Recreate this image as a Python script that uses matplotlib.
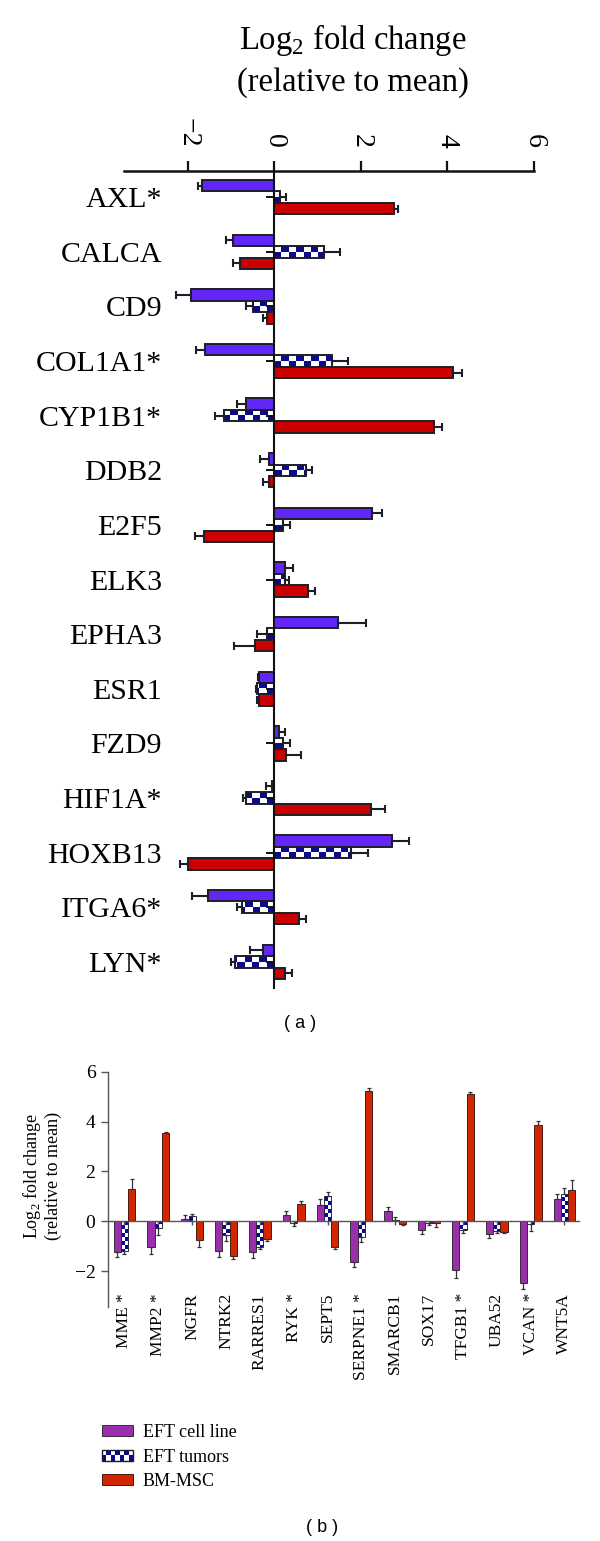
import numpy as np
import matplotlib
matplotlib.use("Agg")
import matplotlib.pyplot as plt
from matplotlib.patches import Rectangle
from matplotlib.legend_handler import HandlerBase

plt.rcParams['font.family'] = ['Liberation Serif', 'DejaVu Serif']
plt.rcParams['mathtext.fontset'] = 'custom'
plt.rcParams['mathtext.rm'] = 'Liberation Serif'

# ---------------- data: panel (a) ----------------
top_genes = ["AXL*", "CALCA", "CD9", "COL1A1*", "CYP1B1*", "DDB2", "E2F5", "ELK3",
             "EPHA3", "ESR1", "FZD9", "HIF1A*", "HOXB13", "ITGA6*", "LYN*"]
top_cell = [-1.67, -0.95, -1.93, -1.59, -0.66, -0.11, 2.26, 0.26, 1.48, -0.35, 0.12, -0.05, 2.72, -1.52, -0.27]
top_cell_err = [0.10, 0.17, 0.35, 0.21, 0.19, 0.22, 0.22, 0.18, 0.63, 0.03, 0.13, 0.15, 0.40, 0.37, 0.29]
top_tum = [0.14, 1.15, -0.49, 1.34, -1.16, 0.74, 0.20, 0.25, -0.17, -0.39, 0.20, -0.65, 1.78, -0.75, -0.90]
top_tum_err = [0.13, 0.38, 0.16, 0.36, 0.21, 0.14, 0.17, 0.08, 0.22, 0.03, 0.16, 0.08, 0.39, 0.11, 0.10]
top_msc = [2.76, -0.80, -0.17, 4.13, 3.68, -0.13, -1.62, 0.77, -0.45, -0.36, 0.28, 2.24, -1.99, 0.58, 0.24]
top_msc_err = [0.10, 0.16, 0.08, 0.20, 0.20, 0.13, 0.20, 0.17, 0.47, 0.03, 0.34, 0.31, 0.19, 0.15, 0.18]
top_xticks = [-2, 0, 2, 4, 6]

# ---------------- data: panel (b) ----------------
bot_genes = ["MME *", "MMP2 *", "NGFR", "NTRK2", "RARRES1", "RYK *", "SEPT5", "SERPNE1 *",
             "SMARCB1", "SOX17", "TFGB1 *", "UBA52", "VCAN *", "WNT5A"]
bot_cell = [-1.25, -1.03, 0.11, -1.20, -1.23, 0.27, 0.67, -1.63, 0.41, -0.36, -1.96, -0.53, -2.47, 0.88]
bot_cell_err = [0.17, 0.27, 0.13, 0.23, 0.23, 0.13, 0.24, 0.20, 0.16, 0.17, 0.31, 0.16, 0.26, 0.20]
bot_tum = [-1.19, -0.29, 0.21, -0.56, -1.03, -0.09, 1.00, -0.63, 0.07, -0.07, -0.36, -0.40, -0.13, 1.10]
bot_tum_err = [0.13, 0.27, 0.10, 0.24, 0.10, 0.10, 0.17, 0.20, 0.10, 0.07, 0.13, 0.07, 0.27, 0.23]
bot_msc = [1.28, 3.55, -0.76, -1.40, -0.72, 0.68, -1.03, 5.24, -0.10, -0.05, 5.10, -0.43, 3.87, 1.25]
bot_msc_err = [0.40, 0.05, 0.27, 0.13, 0.08, 0.12, 0.10, 0.09, 0.07, 0.17, 0.10, 0.03, 0.17, 0.40]
bot_yticks = [-2, 0, 2, 4, 6]

series_names = ["EFT cell line", "EFT tumors", "BM-MSC"]

# ---------------- styles ----------------
TOP_CELL = '#6226F8'
TOP_MSC = '#CC0000'
NAVY = '#0A0A8A'
BOT_CELL = '#9A2FAE'
BOT_MSC = '#D22600'
EDGE = '#1E1E28'


def one_sided(vals, errs):
    vals = np.asarray(vals); errs = np.asarray(errs)
    lo = np.where(vals < 0, errs, 0.0)
    hi = np.where(vals >= 0, errs, 0.0)
    return np.vstack([lo, hi])


def add_checker(ax, container, horizontal, cell_along, n_across, zorder):
    from matplotlib.colors import ListedColormap
    cmap = ListedColormap(['white', NAVY])
    for p in container.patches:
        x0, y0 = p.get_x(), p.get_y()
        w, h = p.get_width(), p.get_height()
        length = w if horizontal else h
        n_along = max(1, int(np.ceil(abs(length) / cell_along)))
        sgn = 1 if length >= 0 else -1
        if horizontal:
            arr = np.add.outer(np.arange(n_across), np.arange(n_along)) % 2
            extent = (0, sgn * n_along * cell_along, y0 + h, y0)
        else:
            arr = np.add.outer(np.arange(n_along), np.arange(n_across)) % 2
            extent = (x0, x0 + w, 0, sgn * n_along * cell_along)
            if sgn < 0:
                arr = arr[::-1]
        im = ax.imshow(arr, cmap=cmap, vmin=0, vmax=1, extent=extent,
                       interpolation='nearest', aspect='auto', origin='upper',
                       zorder=zorder)
        im.set_clip_path(p)


class CheckerHandler(HandlerBase):
    def create_artists(self, legend, orig_handle, xdescent, ydescent, width, height, fontsize, trans):
        arts = []
        nx, ny = 7, 2
        cw, ch = width / nx, height / ny
        for i in range(nx):
            for j in range(ny):
                c = NAVY if (i + j) % 2 == 0 else 'white'
                arts.append(Rectangle((-xdescent + i * cw, -ydescent + j * ch), cw, ch,
                                      facecolor=c, edgecolor='none', transform=trans))
        arts.append(Rectangle((-xdescent, -ydescent), width, height, facecolor='none',
                              edgecolor=EDGE, lw=1.0, transform=trans))
        return arts


W, H = 600, 1541
fig = plt.figure(figsize=(W / 100, H / 100), dpi=100)

# ================= panel (a) =================
axA = fig.add_axes([124 / W, 1 - 988 / H, 410 / W, 817 / H])
ya = np.arange(len(top_genes))
bh = 0.21
ekw_a = dict(fmt='none', ecolor=EDGE, elinewidth=1.5, capsize=2.6, capthick=1.5, zorder=4)

axA.barh(ya - bh, top_cell, height=bh, color=TOP_CELL, edgecolor=EDGE, linewidth=1.4, zorder=2)
axA.errorbar(top_cell, ya - bh, xerr=one_sided(top_cell, top_cell_err), **ekw_a)

tum_a = axA.barh(ya, top_tum, height=bh, color='white', edgecolor='none', linewidth=0, zorder=1)
add_checker(axA, tum_a, True, 0.17, 2, 1.5)
axA.barh(ya, top_tum, height=bh, color='none', edgecolor=EDGE, linewidth=1.4, zorder=2)
axA.errorbar(top_tum, ya, xerr=one_sided(top_tum, top_tum_err), **ekw_a)

axA.barh(ya + bh, top_msc, height=bh, color=TOP_MSC, edgecolor=EDGE, linewidth=1.4, zorder=2)
axA.errorbar(top_msc, ya + bh, xerr=one_sided(top_msc, top_msc_err), **ekw_a)

axA.set_xlim(-3.47, 6.0)
axA.set_ylim(len(top_genes) - 1 + 0.48, -0.48)
axA.xaxis.tick_top()
axA.set_xticks(top_xticks)
axA.set_xticklabels([f"{v}".replace('-', '\u2212') for v in top_xticks])
axA.tick_params(axis='x', direction='out', length=7, width=1.6, pad=10,
                labelsize=20, labelrotation=-90, color='#111111')
axA.spines['left'].set_position(('data', 0))
axA.spines['left'].set_linewidth(1.5)
axA.spines['left'].set_color('#111111')
axA.spines['left'].set_zorder(5)
axA.spines['top'].set_linewidth(1.8)
axA.spines['top'].set_color('#111111')
axA.spines['right'].set_visible(False)
axA.spines['bottom'].set_visible(False)
axA.set_yticks(ya)
axA.set_yticklabels(top_genes)
axA.tick_params(axis='y', direction='out', length=5.8, width=1.4, pad=75,
                labelsize=21.5, color='#111111')

fig.text(353 / W, 1 - 40 / H, r'Log$_{\mathregular{2}}$ fold change', ha='center', va='center', fontsize=23.5)
fig.text(353 / W, 1 - 83 / H, '(relative to mean)', ha='center', va='center', fontsize=23.5)
fig.text(300 / W, 1 - 1023 / H, '( a )', ha='center', va='center', fontsize=13,
         family=['Liberation Sans', 'DejaVu Sans'])

# ================= panel (b) =================
axB = fig.add_axes([108 / W, 1 - 1307 / H, 471 / W, 235.3 / H])
xb = np.arange(len(bot_genes))
bw = 0.215
ekw_b = dict(fmt='none', ecolor='#333333', elinewidth=0.9, capsize=1.6, capthick=0.9, zorder=4)

c1 = axB.bar(xb - bw, bot_cell, width=bw, color=BOT_CELL, edgecolor='#3a2a3a', linewidth=0.7, zorder=2)
axB.errorbar(xb - bw, bot_cell, yerr=one_sided(bot_cell, bot_cell_err), **ekw_b)

tum_b = axB.bar(xb, bot_tum, width=bw, color='white', edgecolor='none', linewidth=0, zorder=1)
add_checker(axB, tum_b, False, 0.16, 2, 1.5)
c2 = axB.bar(xb, bot_tum, width=bw, color='none', edgecolor='#2a2a3a', linewidth=0.7, zorder=2)
axB.errorbar(xb, bot_tum, yerr=one_sided(bot_tum, bot_tum_err), **ekw_b)

c3 = axB.bar(xb + bw, bot_msc, width=bw, color=BOT_MSC, edgecolor='#4a1a10', linewidth=0.7, zorder=2)
axB.errorbar(xb + bw, bot_msc, yerr=one_sided(bot_msc, bot_msc_err), **ekw_b)

axB.set_xlim(-0.487, 13.43)
axB.set_ylim(-3.44, 6.0)
axB.spines['top'].set_visible(False)
axB.spines['right'].set_visible(False)
axB.spines['bottom'].set_position(('data', 0))
for s in ('left', 'bottom'):
    axB.spines[s].set_linewidth(1.0)
    axB.spines[s].set_color('#555555')
axB.spines['bottom'].set_zorder(5)
axB.set_yticks(bot_yticks)
axB.set_yticklabels([f"{v}".replace('-', '\u2212') for v in bot_yticks])
axB.tick_params(axis='y', direction='out', length=5, width=1.0, pad=4, labelsize=14,
                color='#555555')
axB.set_xticks(xb)
axB.set_xticklabels(bot_genes, rotation=90, ha='center', va='top')
axB.tick_params(axis='x', direction='out', length=3.2, width=1.0, pad=48.5, labelsize=12.5,
                color='#555555')

fig.text(32 / W, 1 - 1176 / H, r'Log$_{\mathregular{2}}$ fold change', rotation=90,
         ha='center', va='center', fontsize=13)
fig.text(53 / W, 1 - 1176 / H, '(relative to mean)', rotation=90,
         ha='center', va='center', fontsize=13)

handles = [c1, c2, c3]
fig.legend(handles, series_names, loc='upper left', bbox_to_anchor=(102 / W, 1 - 1424 / H),
           frameon=False, fontsize=13, handlelength=1.72, handleheight=0.56,
           handletextpad=0.55, labelspacing=0.42, borderpad=0, borderaxespad=0,
           handler_map={c2: CheckerHandler()})

fig.text(322 / W, 1 - 1528 / H, '( b )', ha='center', va='center', fontsize=13,
         family=['Liberation Sans', 'DejaVu Sans'])

fig.savefig('out.png', dpi=100)
